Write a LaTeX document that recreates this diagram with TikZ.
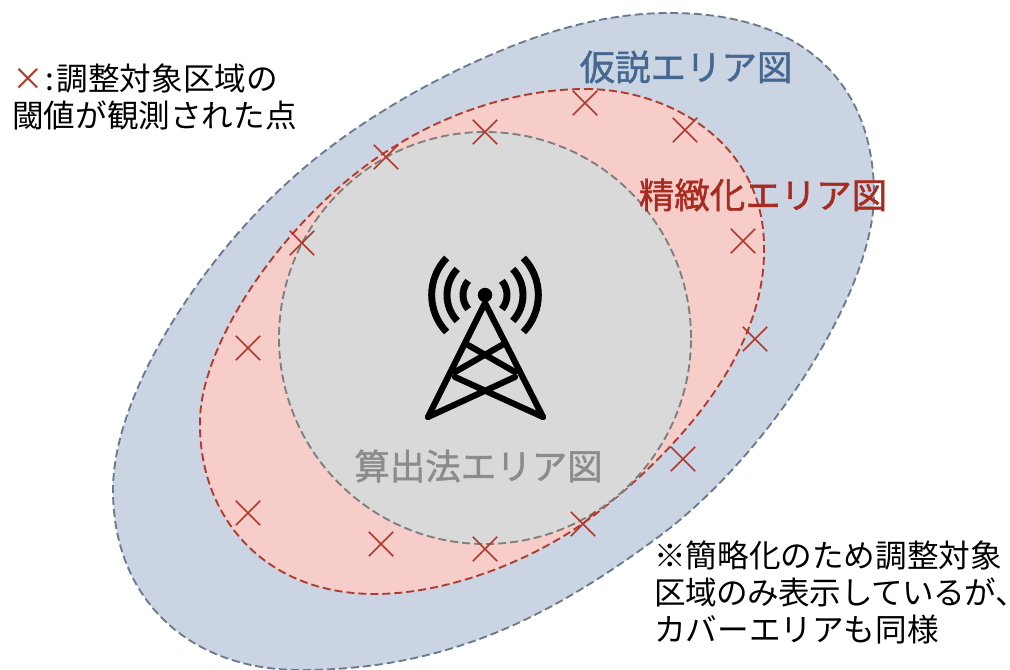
\documentclass[tikz,border=0pt]{standalone}
\usepackage{fontspec}
\setmainfont{Noto Sans CJK JP}[BoldFont={Noto Sans CJK JP}, BoldFeatures={FakeBold=1.2}]
\newfontfamily\halfpunct[RawFeature=+palt]{Noto Sans CJK JP}
\usetikzlibrary{shapes.misc}

\begin{document}
\begin{tikzpicture}[x=0.75pt, y=-0.75pt,
    crossmark/.style={cross out, draw=crosscolor, line width=1.3pt, minimum size=17pt, inner sep=0pt},
    towerline/.style={line width=4.6pt, line cap=round, line join=round},
    wavearc/.style={line width=5.2pt},
    areaedge/.style={dash pattern=on 6pt off 3pt, line width=1.4pt},
    bigtitle/.style={font=\fontsize{26.6}{30}\selectfont\bfseries},
    remark/.style={font=\fontsize{23.7}{27.75}\selectfont, align=left, text=black, inner sep=0pt}]

    % Farben
    \definecolor{hypofill}{HTML}{CAD4E3}
    \definecolor{hypotext}{HTML}{44688F}
    \definecolor{hypoedge}{HTML}{6B7B8F}
    \definecolor{finefill}{HTML}{F6CDC8}
    \definecolor{finetext}{HTML}{A82B20}
    \definecolor{calcfill}{HTML}{D9D9D9}
    \definecolor{calctext}{HTML}{8C8C8C}
    \definecolor{calcedge}{HTML}{7F7F7F}
    \definecolor{crosscolor}{HTML}{B03A2E}

    \useasboundingbox (0,0) rectangle (1010,670);

    % Flaechen
    \draw[fill=hypofill, draw=hypoedge, areaedge] (670,13)
        .. controls (805,13) and (874,85) .. (874,195)
        .. controls (874,290) and (770,455) .. (657,538)
        .. controls (600,580) and (550,610) .. (500,631)
        .. controls (430,660) and (365,670) .. (300,670)
        .. controls (190,670) and (113,600) .. (113,490)
        .. controls (113,390) and (207,255) .. (287,183)
        .. controls (350,125) and (430,80) .. (500,51)
        .. controls (560,26) and (615,13) .. (670,13) -- cycle;
    \draw[fill=finefill, draw=crosscolor, areaedge] (585,89)
        .. controls (672,89) and (764,145) .. (764,247)
        .. controls (766,345) and (690,440) .. (597,513)
        .. controls (540,558) and (450,594) .. (375,594)
        .. controls (262,594) and (200,515) .. (200,425)
        .. controls (198,340) and (295,205) .. (397,145)
        .. controls (450,112) and (520,89) .. (585,89) -- cycle;
    \draw[fill=calcfill, draw=calcedge, areaedge] (485,338) circle [radius=154.5pt];

    % Kreuze
    \node[crossmark] (x1) at (585,103) {};
    \node[crossmark] (x2) at (685,130) {};
    \node[crossmark] (x3) at (485,132) {};
    \node[crossmark] (x4) at (386,157) {};
    \node[crossmark] (x5) at (302,243) {};
    \node[crossmark] (x6) at (743,241) {};
    \node[crossmark] (x7) at (755,339) {};
    \node[crossmark] (x8) at (248,348) {};
    \node[crossmark] (x9) at (683,459) {};
    \node[crossmark] (x10) at (248,513) {};
    \node[crossmark] (x11) at (583,524) {};
    \node[crossmark] (x12) at (381,544) {};
    \node[crossmark] (x13) at (485,549) {};

    % Turm
    \coordinate (T) at (485,295);
    \fill (T) circle (5.4pt);
    \draw[towerline] (428,417) -- (485,303) -- (543,417);
    \draw[towerline] (468,345) -- (515,372);
    \draw[towerline] (502,345) -- (455,372);
    \draw[towerline] (455,377) -- (543,417) (515,377) -- (428,417);
    \foreach \r/\w in {16.5/40, 28.5/43, 40/44} {
        \draw[wavearc] ([shift={(180-\w:\r pt)}]T) arc [start angle=180-\w, end angle=180+\w, radius=\r pt];
        \draw[wavearc] ([shift={(-\w:\r pt)}]T) arc [start angle=-\w, end angle=\w, radius=\r pt];
    }

    % Beschriftungen
    \node[bigtitle, text=hypotext] (hypo) at (686,67) {仮説エリア図};
    \node[bigtitle, text=finetext] (fine) at (763,195) {精緻化エリア図};
    \node[bigtitle, text=calctext] (calc) at (478.5,466) {算出法エリア図};
    \node[remark, anchor=north west] (legend) at (12,64) {{\color{crosscolor}×}\kern1pt:\kern2pt 調整対象区域の\\閾値が観測された点};
    \node[remark, anchor=north west] (note) at (654,541) {※簡略化のため調整対象\\{\addfontfeatures{LetterSpace=-1.5}区域のみ表示しているが}{\halfpunct 、}\\カバーエリアも同様};

\end{tikzpicture}
\end{document}
